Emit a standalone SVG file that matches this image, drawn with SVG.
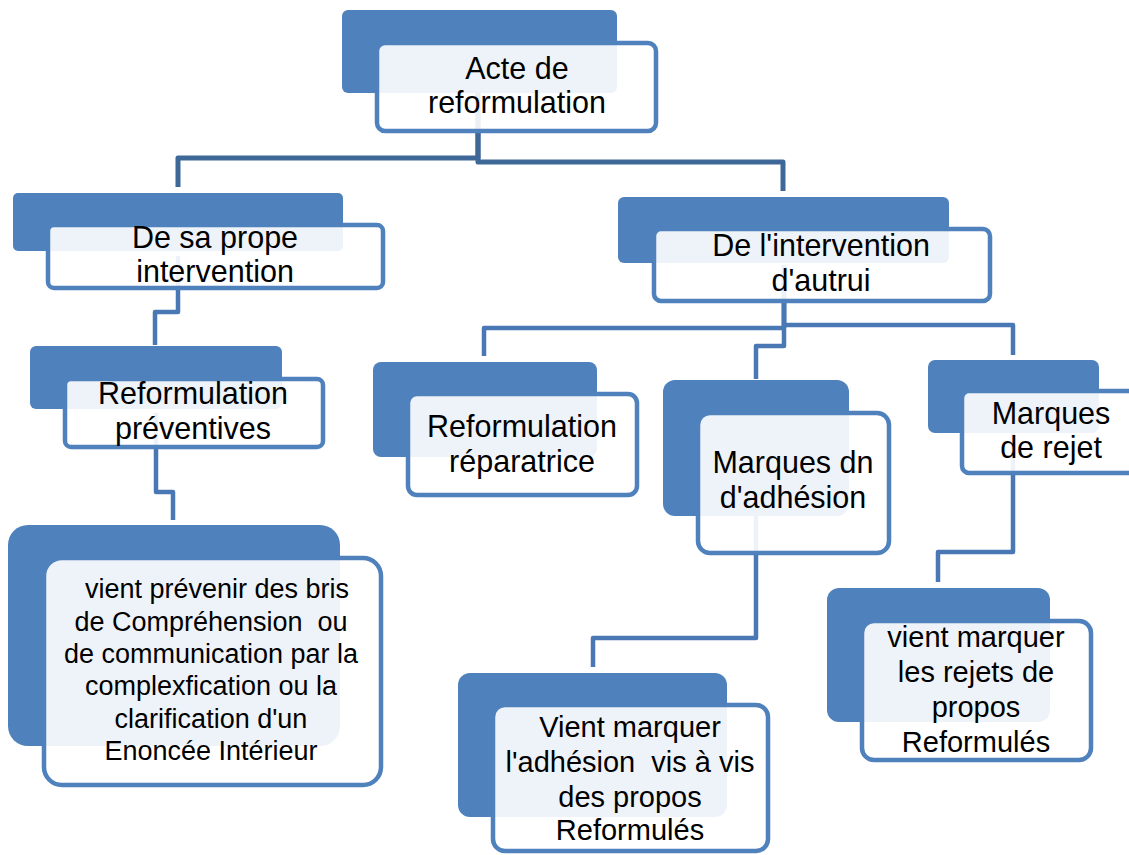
<svg xmlns="http://www.w3.org/2000/svg" width="1129" height="855" viewBox="0 0 1129 855">
  <style>
    .back { fill: #4f81bd; }
    .front { fill: #ffffff; fill-opacity: 0.9; stroke: #4f81bd; stroke-width: 4.5; }
    .conn { fill: none; stroke: #4978b5; stroke-width: 4.5; stroke-linejoin: round; }
    .conn1 { fill: none; stroke: #3e6898; stroke-width: 5; stroke-linejoin: round; }
    .lbl { font-family: "Liberation Sans", Arial, sans-serif; font-size: 30.5px; fill: #000000; text-anchor: middle; }
    .mid { font-size: 29px; }
    .small { font-size: 27px; }
  </style>
  <rect width="1129" height="855" fill="#ffffff"/>

  <!-- connectors (drawn first so boxes sit on top) -->
  <g id="connectors">
    <path class="conn1" d="M478,87 V158 H178 V187"/>
    <path class="conn1" d="M478,87 V162 H783 V191"/>
    <path class="conn" d="M178,256 V312 H155 V345"/>
    <path class="conn" d="M156,413 V492 H173 V520"/>
    <path class="conn" d="M784,265 V328 H484 V356"/>
    <path class="conn" d="M784,265 V325 H1013 V355"/>
    <path class="conn" d="M784,265 V346 H756 V379"/>
    <path class="conn" d="M756,483 V638 H593 V667"/>
    <path class="conn" d="M1013,432 V552 H938 V582"/>
  </g>

  <g id="n-acte">
    <rect class="back" x="342" y="10" width="275" height="83" rx="6"/>
    <rect class="front" x="377" y="43" width="279" height="88" rx="8"/>
    <text class="lbl"><tspan x="517" y="79">Acte de</tspan><tspan x="517" y="113">reformulation</tspan></text>
  </g>

  <g id="n-propre">
    <rect class="back" x="13" y="193" width="330" height="58" rx="5"/>
    <rect class="front" x="48" y="225" width="335" height="63" rx="6"/>
    <text class="lbl"><tspan x="215" y="248">De sa prope</tspan><tspan x="215" y="282">intervention</tspan></text>
  </g>

  <g id="n-autrui">
    <rect class="back" x="618" y="197" width="331" height="66" rx="6"/>
    <rect class="front" x="654" y="229" width="336" height="72" rx="7"/>
    <text class="lbl"><tspan x="821" y="256">De l'intervention</tspan><tspan x="821" y="291">d'autrui</tspan></text>
  </g>

  <g id="n-preventives">
    <rect class="back" x="30" y="346" width="252" height="63" rx="6"/>
    <rect class="front" x="65" y="379" width="258" height="68" rx="6"/>
    <text class="lbl"><tspan x="193" y="404">Reformulation</tspan><tspan x="193" y="439">préventives</tspan></text>
  </g>

  <g id="n-reparatrice">
    <rect class="back" x="373" y="362" width="224" height="95" rx="8"/>
    <rect class="front" x="408" y="394" width="229" height="101" rx="9"/>
    <text class="lbl"><tspan x="522" y="437">Reformulation</tspan><tspan x="522" y="472">réparatrice</tspan></text>
  </g>

  <g id="n-adhesion">
    <rect class="back" x="663" y="380" width="186" height="136" rx="12"/>
    <rect class="front" x="698" y="413" width="191" height="140" rx="12"/>
    <text class="lbl"><tspan x="793" y="473">Marques dn</tspan><tspan x="793" y="508">d'adhésion</tspan></text>
  </g>

  <g id="n-rejet">
    <rect class="back" x="928" y="360" width="171" height="73" rx="7"/>
    <rect class="front" x="962" y="391" width="178" height="82" rx="7"/>
    <text class="lbl"><tspan x="1051" y="424">Marques</tspan><tspan x="1051" y="458">de rejet</tspan></text>
  </g>

  <g id="n-prevenir">
    <rect class="back" x="8" y="525" width="332" height="221" rx="20"/>
    <rect class="front" x="44" y="558" width="337" height="227" rx="18"/>
    <text class="lbl small" xml:space="preserve"><tspan x="217" y="598">vient prévenir des bris</tspan><tspan x="211" y="630.5">de Compréhension  ou</tspan><tspan x="211" y="663">de communication par la</tspan><tspan x="211" y="695">complexfication ou la</tspan><tspan x="211" y="727.5">clarification d'un</tspan><tspan x="211" y="760">Enoncée Intérieur</tspan></text>
  </g>

  <g id="n-marquer-adhesion">
    <rect class="back" x="458" y="673" width="269" height="144" rx="12"/>
    <rect class="front" x="493" y="705" width="275" height="146" rx="12"/>
    <text class="lbl mid" xml:space="preserve"><tspan x="630" y="737">Vient marquer</tspan><tspan x="630" y="772">l'adhésion  vis à vis</tspan><tspan x="630" y="807">des propos</tspan><tspan x="630" y="840">Reformulés</tspan></text>
  </g>

  <g id="n-marquer-rejets">
    <rect class="back" x="827" y="588" width="223" height="134" rx="12"/>
    <rect class="front" x="862" y="621" width="229" height="139" rx="12"/>
    <text class="lbl mid"><tspan x="976" y="647">vient marquer</tspan><tspan x="976" y="682">les rejets de</tspan><tspan x="976" y="717">propos</tspan><tspan x="976" y="752">Reformulés</tspan></text>
  </g>
</svg>
